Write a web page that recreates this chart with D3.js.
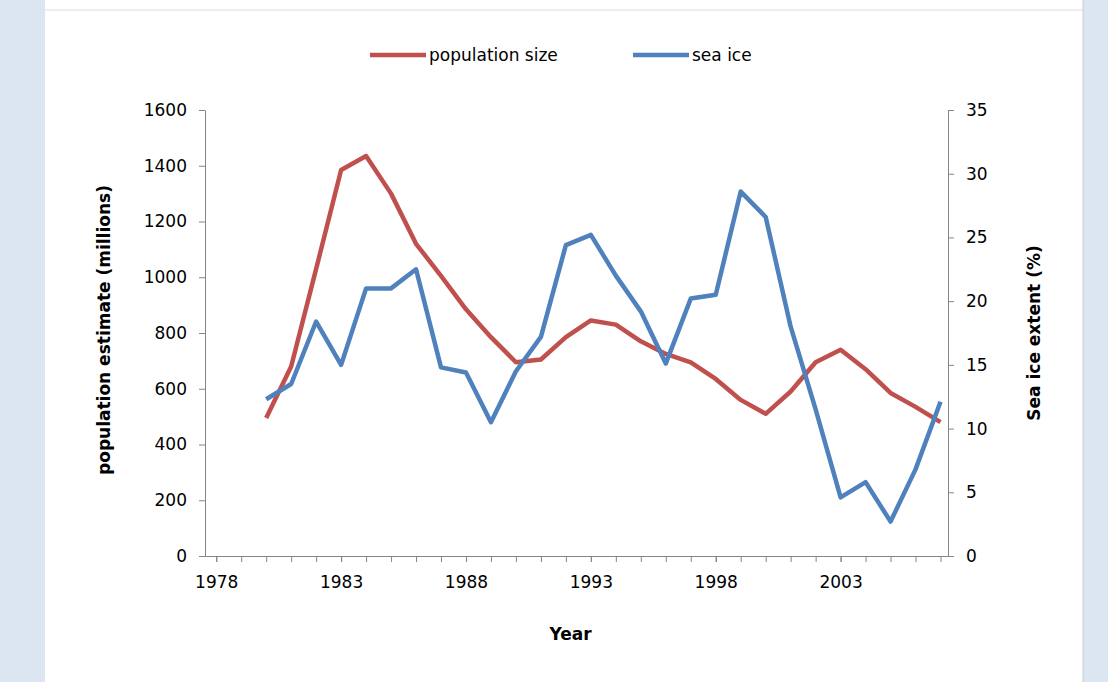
<!DOCTYPE html>
<html><head><meta charset="utf-8">
<script src="https://cdn.jsdelivr.net/npm/d3@7"></script>
<style>body{margin:0;background:#fff;font-family:"DejaVu Sans",sans-serif}</style>
</head><body><div id="app"></div>
<script>
const years = d3.range(1980, 2008);
const population = [495,680,1030,1385,1435,1300,1120,1005,885,785,695,705,785,845,830,770,725,695,635,560,510,590,695,740,670,585,535,480];
const seaIce = [12.3,13.5,18.4,15.0,21.0,21.0,22.5,14.8,14.4,10.5,14.5,17.2,24.4,25.2,22.0,19.2,15.1,20.2,20.5,28.6,26.6,18.0,11.5,4.6,5.8,2.7,6.8,12.1];
const xTicks = [1978,1983,1988,1993,1998,2003];
const leftTicks = d3.range(0, 1601, 200);
const rightTicks = d3.range(0, 36, 5);

const W = 1108, H = 682;
const svg = d3.select("#app").append("svg").attr("width", W).attr("height", H);
svg.append("rect").attr("width", W).attr("height", H).attr("fill", "#dce6f1");
svg.append("rect").attr("x", 45).attr("y", 0).attr("width", 1038).attr("height", H).attr("fill", "#fff");
svg.append("line").attr("x1",45).attr("x2",1083).attr("y1",10).attr("y2",10).attr("stroke","#ddd");
svg.append("line").attr("x1",1083).attr("x2",1083).attr("y1",0).attr("y2",H).attr("stroke","#ccc");

const L = 205, R = 948, T = 110, B = 556;
const x = d3.scaleLinear().domain([1977.55, 2007.3]).range([L, R]);
const yL = d3.scaleLinear().domain([0, 1600]).range([B, T]);
const yR = d3.scaleLinear().domain([0, 35]).range([B, T]);

const axisStyle = g => {
  g.selectAll("path,line").attr("stroke", "#868686");
  g.selectAll("text").attr("font-size", 17).attr("fill", "#000").attr("font-family", "DejaVu Sans, sans-serif");
};
svg.append("g").attr("transform", `translate(0,${B})`)
  .call(d3.axisBottom(x).tickValues(d3.range(1978, 2008)).tickFormat("").tickSize(6).tickSizeOuter(0))
  .call(axisStyle);
svg.append("g").attr("transform", `translate(0,${B})`)
  .call(d3.axisBottom(x).tickValues(xTicks).tickFormat(d3.format("d")).tickSize(6).tickPadding(14).tickSizeOuter(0))
  .call(axisStyle);
svg.append("g").attr("transform", `translate(${L},0)`)
  .call(d3.axisLeft(yL).tickValues(leftTicks).tickFormat(d3.format("d")).tickSize(6).tickPadding(12).tickSizeOuter(0))
  .call(axisStyle);
svg.append("g").attr("transform", `translate(${R},0)`)
  .call(d3.axisRight(yR).tickValues(rightTicks).tickSize(6).tickPadding(12).tickSizeOuter(0))
  .call(axisStyle);

const line = (ys) => d3.line().x((d, i) => x(years[i])).y(d => ys(d));
svg.append("path").datum(population).attr("d", line(yL)).attr("fill", "none")
  .attr("stroke", "#c0504d").attr("stroke-width", 4.5).attr("stroke-linejoin", "round");
svg.append("path").datum(seaIce).attr("d", line(yR)).attr("fill", "none")
  .attr("stroke", "#4f81bd").attr("stroke-width", 4.5).attr("stroke-linejoin", "round");

svg.append("text").attr("x", (L + R) / 2 - 6).attr("y", 640).attr("text-anchor", "middle")
  .attr("font-size", 17).attr("font-weight", "bold").text("Year");
svg.append("text").attr("transform", `translate(110,${(T + B) / 2 - 3}) rotate(-90)`).attr("text-anchor", "middle")
  .attr("font-size", 17).attr("font-weight", "bold").text("population estimate (millions)");
svg.append("text").attr("transform", `translate(1040,${(T + B) / 2}) rotate(-90)`).attr("text-anchor", "middle")
  .attr("font-size", 17).attr("font-weight", "bold").text("Sea ice extent (%)");

const legend = [["population size", "#c0504d", 370], ["sea ice", "#4f81bd", 633]];
legend.forEach(([name, c, lx]) => {
  svg.append("line").attr("x1", lx).attr("x2", lx + 56).attr("y1", 55).attr("y2", 55)
    .attr("stroke", c).attr("stroke-width", 4.5);
  svg.append("text").attr("x", lx + 59).attr("y", 61).attr("font-size", 17).text(name);
});
</script></body></html>
